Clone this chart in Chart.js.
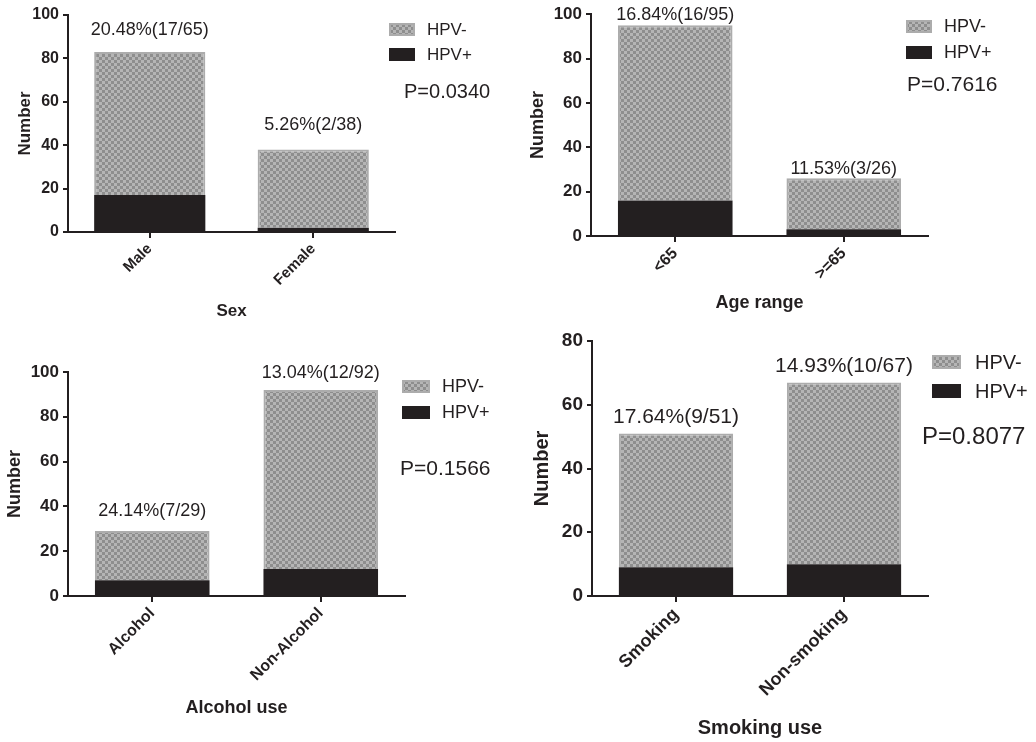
<!DOCTYPE html>
<html><head><meta charset="utf-8">
<script src="https://cdn.jsdelivr.net/npm/chart.js@4.4.1/dist/chart.umd.min.js"></script>
<style>
html,body{margin:0;padding:0;background:#fff;}
#wrap{position:relative;width:1036px;height:742px;overflow:hidden;}
canvas{position:absolute;left:0;top:0;}
</style></head><body><div id="wrap">
<canvas id="c1" width="1036" height="742"></canvas>
<canvas id="c2" width="1036" height="742"></canvas>
<canvas id="c3" width="1036" height="742"></canvas>
<canvas id="c4" width="1036" height="742"></canvas>
</div>
<script>
// ---------- data ----------
const seriesNames = ['HPV+', 'HPV-'];
const legendOrder = ['HPV-', 'HPV+'];

const sexCategories = ['Male', 'Female'];
const sexHpvPos = [17, 2];
const sexHpvNeg = [66, 36];
const sexRateLabels = ['20.48%(17/65)', '5.26%(2/38)'];
const sexPValue = 'P=0.0340';
const sexYTicks = [0, 20, 40, 60, 80, 100];

const ageCategories = ['<65', '>=65'];
const ageHpvPos = [16, 3];
const ageHpvNeg = [79, 23];
const ageRateLabels = ['16.84%(16/95)', '11.53%(3/26)'];
const agePValue = 'P=0.7616';
const ageYTicks = [0, 20, 40, 60, 80, 100];

const alcCategories = ['Alcohol', 'Non-Alcohol'];
const alcHpvPos = [7, 12];
const alcHpvNeg = [22, 80];
const alcRateLabels = ['24.14%(7/29)', '13.04%(12/92)'];
const alcPValue = 'P=0.1566';
const alcYTicks = [0, 20, 40, 60, 80, 100];

const smkCategories = ['Smoking', 'Non-smoking'];
const smkHpvPos = [9, 10];
const smkHpvNeg = [42, 57];
const smkRateLabels = ['17.64%(9/51)', '14.93%(10/67)'];
const smkPValue = 'P=0.8077';
const smkYTicks = [0, 20, 40, 60, 80];

// ---------- styling ----------
const INK = '#231f20';
const FONT = "'Liberation Sans', Arial, Helvetica, sans-serif";

function makeChecker(ctx) {
  const c = document.createElement('canvas');
  c.width = 6; c.height = 6;
  const g = c.getContext('2d');
  g.fillStyle = '#b5b5b5'; g.fillRect(0, 0, 6, 6);
  g.fillStyle = '#8e8e8e'; g.fillRect(0, 0, 3, 3); g.fillRect(3, 3, 3, 3);
  return ctx.createPattern(c, 'repeat');
}

const annotPlugin = {
  id: 'annot',
  afterDatasetsDraw(chart, args, o) {
    const ctx = chart.ctx;
    const xs = chart.scales.x, ys = chart.scales.y;
    const pos = chart.data.datasets[0].data, neg = chart.data.datasets[1].data;
    ctx.save();
    ctx.fillStyle = INK;
    ctx.textAlign = 'center'; ctx.textBaseline = 'middle';
    ctx.font = o.rateFont + 'px ' + FONT;
    o.rates.forEach((t, i) => {
      const x = xs.getPixelForValue(i);
      const y = ys.getPixelForValue(pos[i] + neg[i]) - o.gaps[i];
      ctx.fillText(t, x, y);
    });
    // legend
    const L = o.legend;
    const pat = makeChecker(ctx);
    legendOrder.forEach((name, k) => {
      const y = L.ys[k];
      if (name === 'HPV-') {
        ctx.fillStyle = pat; ctx.fillRect(L.x, y, L.w, L.h);
        ctx.strokeStyle = '#acacac'; ctx.lineWidth = 2;
        ctx.strokeRect(L.x + 1, y + 1, L.w - 2, L.h - 2);
      } else {
        ctx.fillStyle = INK; ctx.fillRect(L.x, y, L.w, L.h);
      }
      ctx.fillStyle = INK; ctx.textAlign = 'left';
      ctx.font = L.font + 'px ' + FONT;
      ctx.fillText(name, L.tx, y + L.h / 2 + 1);
    });
    ctx.font = o.p.font + 'px ' + FONT;
    ctx.fillText(o.pText, o.p.x, o.p.y);
    ctx.restore();
  }
};

function makePanel(id, cats, posArr, negArr, rates, pText, yTicks, st) {
  const ctx = document.getElementById(id).getContext('2d');
  const pat = makeChecker(ctx);
  return new Chart(ctx, {
    type: 'bar',
    data: {
      labels: cats,
      datasets: [
        { label: seriesNames[0], data: posArr, backgroundColor: INK, borderWidth: 0,
          barPercentage: 0.68, categoryPercentage: 1 },
        { label: seriesNames[1], data: negArr, backgroundColor: pat, borderColor: '#acacac',
          borderWidth: 2, borderSkipped: 'bottom', barPercentage: 0.68, categoryPercentage: 1 }
      ]
    },
    options: {
      responsive: false, animation: false,
      layout: { padding: st.pad },
      plugins: {
        legend: { display: false }, tooltip: { enabled: false },
        annot: { rates: rates, gaps: st.gaps, rateFont: st.rateFont, legend: st.legend,
                 p: st.p, pText: pText }
      },
      scales: {
        x: {
          stacked: true, offset: true,
          grid: { display: true, drawOnChartArea: false, drawTicks: true, tickLength: 6,
                  color: INK, lineWidth: 2, offset: false },
          border: { display: true, color: INK, width: 2 },
          ticks: { color: INK, font: { family: FONT, size: st.xTickFont, weight: 'bold' },
                   minRotation: 45, maxRotation: 45, padding: 2, autoSkip: false },
          title: { display: true, text: st.xTitle, color: INK, padding: 0,
                   font: { family: FONT, size: st.titleFont, weight: 'bold', lineHeight: 1.2 } },
          afterFit: s => { s.height = st.xH; }
        },
        y: {
          stacked: true, min: 0, max: yTicks[yTicks.length - 1],
          afterBuildTicks: s => { s.ticks = yTicks.map(v => ({ value: v })); },
          grid: { display: true, drawOnChartArea: false, drawTicks: true, tickLength: 5,
                  color: INK, lineWidth: 2 },
          border: { display: true, color: INK, width: 2 },
          ticks: { color: INK, font: { family: FONT, size: st.yTickFont, weight: 'bold' }, padding: 4 },
          title: { display: true, text: 'Number', color: INK, padding: 0,
                   font: { family: FONT, size: st.titleFont, weight: 'bold', lineHeight: 1.2 } },
          afterFit: s => { s.width = st.yW; }
        }
      }
    },
    plugins: [annotPlugin]
  });
}

makePanel('c1', sexCategories, sexHpvPos, sexHpvNeg, sexRateLabels, sexPValue, sexYTicks, {
  pad: { left: 15, top: 15, right: 641, bottom: 420 }, yW: 53, xH: 90,
  yTickFont: 16, xTickFont: 15, titleFont: 17, rateFont: 18, xTitle: 'Sex', gaps: [22, 25],
  legend: { x: 389, ys: [23, 48], w: 26, h: 13, tx: 427, font: 17 },
  p: { x: 404, y: 92, font: 20 }
});
makePanel('c2', ageCategories, ageHpvPos, ageHpvNeg, ageRateLabels, agePValue, ageYTicks, {
  pad: { left: 527, top: 12, right: 108, bottom: 428 }, yW: 64, xH: 78,
  yTickFont: 17, xTickFont: 16, titleFont: 18, rateFont: 18, xTitle: 'Age range', gaps: [10, 9],
  legend: { x: 906, ys: [20, 46], w: 26, h: 13, tx: 944, font: 18 },
  p: { x: 907, y: 85, font: 21 }
});
makePanel('c3', alcCategories, alcHpvPos, alcHpvNeg, alcRateLabels, alcPValue, alcYTicks, {
  pad: { left: 4, top: 372, right: 631, bottom: 23 }, yW: 64, xH: 123,
  yTickFont: 17, xTickFont: 16, titleFont: 18, rateFont: 18, xTitle: 'Alcohol use', gaps: [20, 17],
  legend: { x: 402, ys: [380, 406], w: 28, h: 13, tx: 442, font: 18 },
  p: { x: 400, y: 469, font: 21 }
});
makePanel('c4', smkCategories, smkHpvPos, smkHpvNeg, smkRateLabels, smkPValue, smkYTicks, {
  pad: { left: 530, top: 341, right: 108, bottom: 2 }, yW: 62, xH: 144,
  yTickFont: 19, xTickFont: 18, titleFont: 20, rateFont: 21, xTitle: 'Smoking use', gaps: [16, 16],
  legend: { x: 932, ys: [355, 384], w: 29, h: 14, tx: 975, font: 20 },
  p: { x: 922, y: 437, font: 24 }
});
</script>
</body></html>
